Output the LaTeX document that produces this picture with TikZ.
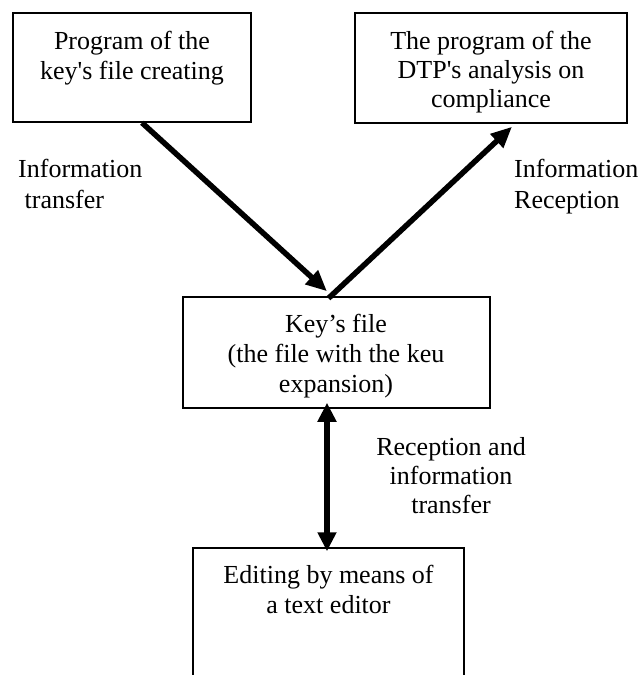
\documentclass[tikz,border=0pt]{standalone}
\usepackage{fontspec}
\setmainfont{Liberation Serif}
\usetikzlibrary{arrows.meta}
\begin{document}
\begin{tikzpicture}[x=1pt,y=-1pt,
  box/.style={draw,line width=1.5pt,inner sep=0pt},
  txt/.style={font=\fontsize{26}{30}\selectfont,align=center,inner sep=0pt,anchor=base},
  lbl/.style={font=\fontsize{26}{31}\selectfont,align=left,inner sep=0pt,anchor=base west},
  arr/.style={line width=5.5pt,-{Triangle[length=21pt,width=18pt]}},
  darr/.style={line width=5.5pt,{Triangle[length=19pt,width=18pt]}-{Triangle[length=19pt,width=18pt]}}]
\useasboundingbox (0,0) rectangle (639,675);
\clip (0,0) rectangle (639,675);
% boxes
\node[box,minimum width=238pt,minimum height=109pt] (b1) at (132,67.5) {};
\node[box,minimum width=272pt,minimum height=110pt] (b2) at (491,68) {};
\node[box,minimum width=307pt,minimum height=111pt] (b3) at (336.5,352.5) {};
\node[box,minimum width=271pt,minimum height=152pt] (b4) at (328.5,624) {};
% box texts (anchored at the last line's baseline)
\node[txt] (t1) at (132,79.5) {Program of the\\key\textquotesingle s file creating};
\node[txt,font=\fontsize{26}{29}\selectfont] (t2) at (491,107.5) {The program of the\\DTP\textquotesingle s analysis on\\compliance};
\node[txt] (t3) at (336,392) {Key’s file\\ (the file with the keu\\expansion)};
\node[txt] (t4) at (328.5,613) {Editing by means of\\a text editor};
% labels
\node[lbl] (l1) at (18,208) {Information\\\ transfer};
\node[lbl] (l2) at (514,208) {Information\\Reception};
\node[txt,font=\fontsize{26}{29}\selectfont] (l3) at (451,513) {Reception and\\information\\transfer};
% connectors
\draw[arr] ([xshift=10pt]b1.south) -- ([xshift=-9.5pt,yshift=5pt]b3.north);
\draw[arr] ([xshift=-8pt,yshift=-2pt]b3.north) -- ([xshift=21pt,yshift=-3pt]b2.south);
\draw[darr] ([xshift=-9.5pt,yshift=6pt]b3.south) -- ([xshift=-1.5pt,yshift=-4pt]b4.north);
\end{tikzpicture}
\end{document}
